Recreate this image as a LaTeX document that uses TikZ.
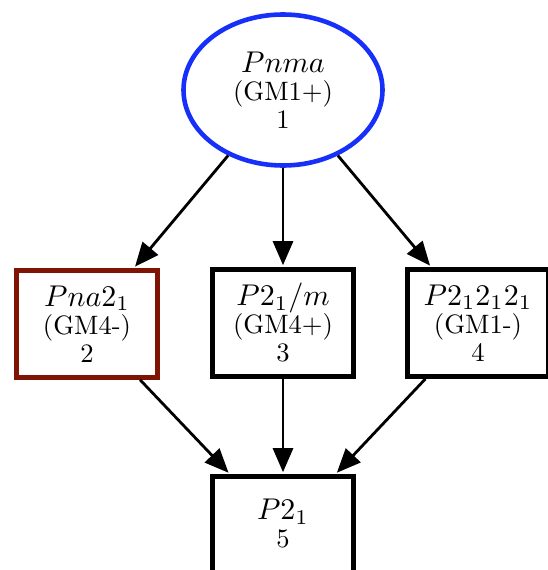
\documentclass[tikz,border=0pt]{standalone}
\usetikzlibrary{arrows.meta,shapes.geometric}
\definecolor{topblue}{RGB}{22,48,250}
\definecolor{boxred}{RGB}{128,20,4}
\newcommand{\grpmath}[1]{\scalebox{3.0}{$#1$}}
\newcommand{\grptext}[1]{\scalebox{2.66}{#1}}
\begin{document}
\begin{tikzpicture}[x=1pt,y=-1pt,
  lbl/.style={align=center,font=\fontsize{10}{28}\selectfont,inner sep=0pt},
  grp/.style={draw,line width=4.6pt,rectangle,minimum width=141pt,minimum height=107pt,lbl},
  top/.style={draw=topblue,line width=4.6pt,ellipse,minimum width=199pt,minimum height=151pt,lbl},
  arr/.style={line width=2.8pt,shorten >=2pt,-{Triangle[length=24pt,width=20pt]}}]
\useasboundingbox (0,0) rectangle (548,570);
\node[top] (n1) at (283,90) {\grpmath{Pnma}\\\grptext{(GM1+)}\\\grptext{1}};
\node[grp,draw=boxred] (n2) at (87,324) {\grpmath{Pna2_1}\\\grptext{(GM4-)}\\\grptext{2}};
\node[grp] (n3) at (283,323) {\grpmath{P2_1/m}\\\grptext{(GM4+)}\\\grptext{3}};
\node[grp] (n4) at (478,323) {\grpmath{P2_12_12_1}\\\grptext{(GM1-)}\\\grptext{4}};
\node[grp] (n5) at (283,530) {};
\node[lbl] (t5) at (283,524) {\grpmath{P2_1}\\\grptext{5}};
\draw[arr] (n1) -- (n2);
\draw[arr] (n1) -- (n3);
\draw[arr] (n1) -- (n4);
\draw[arr] (n2) -- (n5);
\draw[arr] (n3) -- (n5);
\draw[arr] (n4) -- (n5);
\end{tikzpicture}
\end{document}
